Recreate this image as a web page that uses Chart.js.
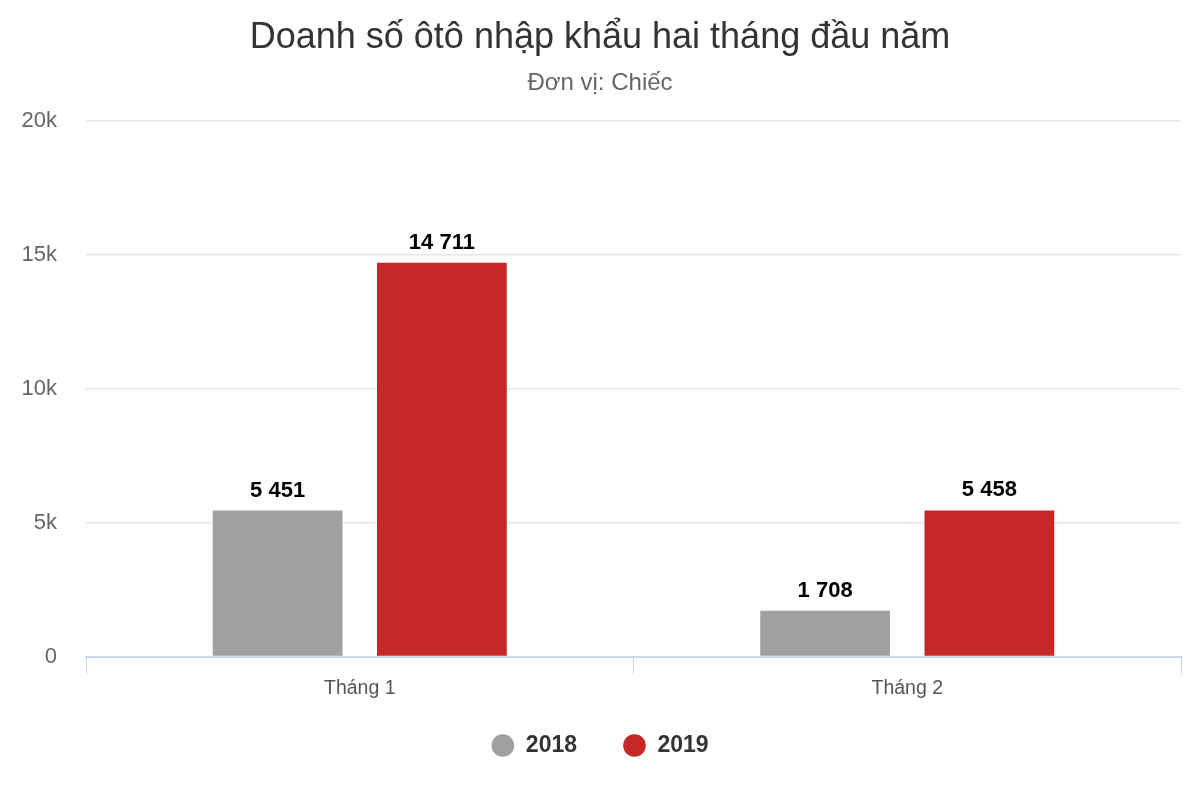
<!DOCTYPE html>
<html><head><meta charset="utf-8">
<script src="https://cdn.jsdelivr.net/npm/chart.js@4/dist/chart.umd.min.js"></script>
<style>html,body{margin:0;padding:0;background:#fff}#wrap{width:1200px;height:800px}</style>
</head><body><div id="wrap"><canvas id="c" width="1200" height="800"></canvas></div>
<script>
const categories = ["Tháng 1", "Tháng 2"];
const seriesNames = ["2018", "2019"];
const values2018 = [5451, 1708];
const values2019 = [14711, 5458];
const yTicks = [0, 5000, 10000, 15000, 20000];
const yTickLabels = ["0", "5k", "10k", "15k", "20k"];
const titleText = "Doanh số ôtô nhập khẩu hai tháng đầu năm";
const subtitleText = "Đơn vị: Chiếc";

const FONT = "'Liberation Sans', Arial, sans-serif";
function fmt(v){ return String(v).replace(/\B(?=(\d{3})+(?!\d))/g, " "); }

const labelPlugin = {
  id: 'valueLabels',
  afterDatasetsDraw(chart){
    const ctx = chart.ctx;
    ctx.save();
    ctx.font = "bold 22px " + FONT;
    ctx.fillStyle = "#000";
    ctx.textAlign = "center";
    ctx.textBaseline = "bottom";
    chart.data.datasets.forEach((ds, i) => {
      chart.getDatasetMeta(i).data.forEach((bar, j) => {
        ctx.fillText(fmt(ds.data[j]), bar.x, bar.y - 9);
      });
    });
    ctx.restore();
  }
};

new Chart(document.getElementById('c'), {
  type: 'bar',
  data: {
    labels: categories,
    datasets: [
      { label: seriesNames[0], data: values2018, backgroundColor: "#a0a0a0" },
      { label: seriesNames[1], data: values2019, backgroundColor: "#c62828" }
    ]
  },
  options: {
    responsive: false,
    animation: false,
    layout: { padding: { left: 19, right: 19, top: 0, bottom: 33 } },
    datasets: { bar: { categoryPercentage: 0.6, barPercentage: 0.79 } },
    plugins: {
      title: { display: true, text: titleText, color: "#333", font: { family: FONT, size: 36, weight: 'normal' }, padding: { top: 16, bottom: 0 } },
      subtitle: { display: true, text: subtitleText, color: "#666", font: { family: FONT, size: 24 }, padding: { top: 10, bottom: 23 } },
      legend: {
        position: 'bottom',
        labels: { usePointStyle: true, pointStyle: 'circle', boxWidth: 23, boxHeight: 16, padding: 46, color: "#333", font: { family: FONT, size: 23, weight: 'bold' } }
      },
      tooltip: { enabled: false }
    },
    scales: {
      x: {
        afterFit(scale){ scale.height -= 14; scale._computeLabelArea = function(){ return undefined; }; },
        grid: { display: true, drawOnChartArea: false, drawTicks: true, tickLength: 18, color: "#ccd6eb", offset: true },
        border: { display: true, color: "#ccd6eb", width: 2 },
        ticks: { color: "#555", font: { family: FONT, size: 19.5 }, padding: 2 }
      },
      y: {
        min: 0, max: 20000,
        afterBuildTicks(scale){ scale.ticks = yTicks.map(v => ({ value: v })); },
        afterFit(scale){ scale.width = 67; },
        grid: { color: "#e6e6e6", drawTicks: false, lineWidth: 1.5 },
        border: { display: false },
        ticks: { color: "#666", font: { family: FONT, size: 22 }, padding: 29,
          callback(v){ const i = yTicks.indexOf(v); return i >= 0 ? yTickLabels[i] : ""; } }
      }
    }
  },
  plugins: [labelPlugin]
});
</script></body></html>
